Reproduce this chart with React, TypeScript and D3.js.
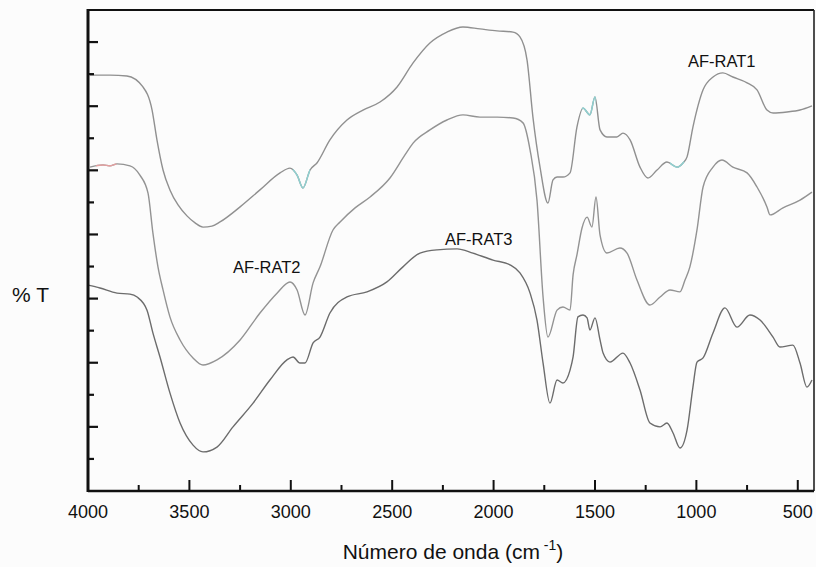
import React from "react";
import * as d3 from "d3";

// FTIR spectra: wavenumber (cm-1) and transmittance (arbitrary offset units)
const rat1Wn = [3990, 3892, 3808, 3729, 3684, 3660, 3630, 3596, 3556, 3512, 3472, 3433, 3389, 3349, 3250, 3152, 3053, 3004, 2969, 2940, 2905, 2871, 2807, 2723, 2644, 2560, 2476, 2397, 2314, 2230, 2151, 2067, 1983, 1904, 1870, 1835, 1806, 1771, 1732, 1707, 1687, 1658, 1623, 1589, 1559, 1525, 1500, 1475, 1441, 1392, 1362, 1327, 1278, 1239, 1194, 1145, 1096, 1066, 1046, 1017, 967, 918, 869, 820, 750, 701, 652, 622, 553, 489, 430];
const rat1T = [129.7, 129.7, 129.4, 126.0, 118.8, 109.5, 100.1, 93.9, 89.2, 85.8, 83.6, 82.3, 82.6, 83.9, 88.6, 93.9, 99.2, 100.7, 98.5, 94.5, 100.1, 102.3, 109.5, 115.7, 118.8, 121.3, 126.0, 133.5, 139.7, 143.1, 144.7, 144.1, 143.5, 143.1, 141.6, 134.4, 116.6, 101.0, 89.8, 97.0, 97.9, 97.9, 99.2, 113.5, 119.4, 117.3, 122.9, 112.6, 110.4, 110.4, 111.6, 109.5, 101.0, 97.6, 100.1, 102.6, 101.0, 102.3, 104.2, 113.5, 125.1, 129.1, 130.4, 129.1, 127.3, 125.1, 118.8, 117.9, 118.2, 118.8, 120.1];

const rat2Wn = [3990, 3926, 3892, 3857, 3793, 3744, 3704, 3680, 3655, 3630, 3596, 3546, 3482, 3433, 3364, 3250, 3152, 3068, 3004, 2969, 2930, 2890, 2856, 2792, 2757, 2683, 2609, 2511, 2437, 2397, 2314, 2230, 2151, 2067, 1983, 1904, 1855, 1820, 1786, 1756, 1732, 1687, 1658, 1623, 1608, 1589, 1564, 1539, 1515, 1495, 1475, 1441, 1377, 1342, 1293, 1229, 1179, 1130, 1081, 1056, 1032, 997, 967, 918, 874, 820, 750, 701, 652, 637, 573, 489, 430];
const rat2T = [101.0, 101.7, 101.4, 102.0, 101.4, 98.5, 92.9, 80.5, 69.9, 62.7, 54.3, 47.1, 41.5, 39.3, 40.9, 47.1, 55.5, 61.7, 65.2, 62.7, 54.9, 64.9, 69.9, 81.4, 83.9, 88.3, 91.7, 97.6, 104.8, 108.5, 112.6, 115.7, 117.3, 116.6, 116.6, 116.3, 114.8, 106.3, 90.7, 60.5, 48.0, 56.4, 57.4, 56.4, 67.4, 73.6, 82.0, 85.4, 82.3, 91.7, 79.8, 74.2, 75.8, 74.2, 65.8, 58.0, 60.5, 62.7, 62.1, 65.8, 69.9, 81.4, 94.8, 101.0, 103.2, 101.0, 99.2, 94.8, 88.6, 86.1, 88.3, 90.7, 93.2];

const rat3Wn = [4000, 3941, 3857, 3793, 3758, 3709, 3680, 3645, 3596, 3546, 3482, 3433, 3364, 3285, 3186, 3103, 3019, 2989, 2955, 2930, 2890, 2856, 2807, 2723, 2624, 2526, 2447, 2363, 2279, 2180, 2102, 2003, 1919, 1870, 1820, 1786, 1756, 1722, 1687, 1658, 1623, 1608, 1584, 1559, 1539, 1525, 1500, 1475, 1460, 1426, 1362, 1327, 1278, 1229, 1179, 1145, 1115, 1081, 1046, 1017, 997, 967, 918, 859, 800, 736, 686, 622, 588, 524, 489, 455, 430];
const rat3T = [64.2, 63.3, 61.7, 61.4, 60.5, 56.4, 49.3, 41.8, 30.6, 21.2, 14.3, 12.2, 13.7, 20.0, 27.4, 34.6, 40.9, 41.8, 39.9, 39.9, 46.2, 48.0, 55.5, 60.5, 62.1, 65.2, 69.9, 74.2, 75.2, 75.5, 74.2, 72.0, 70.5, 68.0, 61.7, 53.3, 39.9, 27.4, 34.6, 33.7, 37.7, 41.8, 54.3, 54.9, 54.0, 50.2, 54.0, 47.1, 43.0, 40.2, 43.0, 39.9, 31.5, 21.2, 20.0, 21.2, 18.1, 13.4, 19.0, 32.4, 40.2, 41.5, 49.3, 57.1, 51.1, 54.9, 53.3, 48.0, 44.9, 45.5, 39.9, 32.4, 34.6];

const seriesNames = ["AF-RAT1", "AF-RAT2", "AF-RAT3"];
const xTickValues = [4000, 3500, 3000, 2500, 2000, 1500, 1000, 500];
const xMinorValues = [3750, 3250, 2750, 2250, 1750, 1250, 750];
const yMajorValues = [20, 40, 60, 80, 100, 120, 140];
const yMinorValues = [10, 30, 50, 70, 90, 110, 130];

// faint colour casts along parts of the traces: [series index, from cm-1, to cm-1, colour]
const tintSeries = [0, 0, 0, 1];
const tintFrom = [2990, 1565, 1130, 3960];
const tintTo = [2905, 1495, 1060, 3860];
const tintColors = ["#8fd0d0", "#8fd0d0", "#8fd0d0", "#e3a0a0"];

const W = 816;
const H = 567;
const left = 88;
const right = 814;
const top = 10;
const bottom = 491;

export default function App() {
  const x = d3.scaleLinear().domain([4000, 420]).range([left, right]);
  const y = d3.scaleLinear().domain([0, 150]).range([bottom, top]);

  const line = d3
    .line<[number, number]>()
    .x((d) => x(d[0]))
    .y((d) => y(d[1]))
    .curve(d3.curveMonotoneX);

  const series = [
    { name: seriesNames[0], pts: rat1Wn.map((w, i) => [w, rat1T[i]] as [number, number]), color: "#909090", lx: 688, ly: 67 },
    { name: seriesNames[1], pts: rat2Wn.map((w, i) => [w, rat2T[i]] as [number, number]), color: "#939393", lx: 233, ly: 273 },
    { name: seriesNames[2], pts: rat3Wn.map((w, i) => [w, rat3T[i]] as [number, number]), color: "#6c6c6c", lx: 445, ly: 245 },
  ];

  const font = "'Liberation Sans', Arial, sans-serif";

  return (
    <svg
      width={W}
      height={H}
      style={{ position: "absolute", left: 0, top: 0, background: "#fcfcfc" }}
      fontFamily={font}
    >
      <defs>
        {tintSeries.map((s, i) => (
          <clipPath key={"tc" + i} id={"tint-" + i}>
            <rect x={x(tintFrom[i])} y={top} width={x(tintTo[i]) - x(tintFrom[i])} height={bottom - top} />
          </clipPath>
        ))}
      </defs>
      <rect x={0} y={0} width={W} height={H} fill="#fcfcfc" />

      {series.map((s) => (
        <path key={s.name} d={line(s.pts) ?? ""} fill="none" stroke={s.color} strokeWidth={1.4} strokeLinejoin="round" />
      ))}

      {tintSeries.map((s, i) => (
        <path
          key={"tint" + i}
          d={line(series[s].pts) ?? ""}
          fill="none"
          stroke={tintColors[i]}
          strokeWidth={1.5}
          clipPath={`url(#tint-${i})`}
        />
      ))}

      {/* frame */}
      <line x1={left} x2={right} y1={top} y2={top} stroke="#111" strokeWidth={2} />
      <line x1={right} x2={right} y1={top} y2={bottom} stroke="#222" strokeWidth={1.6} />
      <line x1={left} x2={left} y1={top - 1} y2={bottom + 1} stroke="#111" strokeWidth={3} />
      <line x1={left} x2={right} y1={bottom} y2={bottom} stroke="#111" strokeWidth={2.4} />

      {/* y ticks, pointing inward */}
      {yMajorValues.map((v) => (
        <line key={"ym" + v} x1={left} x2={left + 10} y1={y(v)} y2={y(v)} stroke="#111" strokeWidth={2.2} />
      ))}
      {yMinorValues.map((v) => (
        <line key={"yn" + v} x1={left} x2={left + 6} y1={y(v)} y2={y(v)} stroke="#111" strokeWidth={2.2} />
      ))}

      {/* x ticks, pointing inward */}
      {xTickValues.map((v) => (
        <line key={"xm" + v} x1={x(v)} x2={x(v)} y1={bottom} y2={bottom - 11} stroke="#111" strokeWidth={2} />
      ))}
      {xMinorValues.map((v) => (
        <line key={"xn" + v} x1={x(v)} x2={x(v)} y1={bottom} y2={bottom - 6} stroke="#111" strokeWidth={2} />
      ))}

      {xTickValues.map((v) => (
        <text key={"xl" + v} x={x(v)} y={518} textAnchor="middle" fontSize={18} fill="#111">
          {v}
        </text>
      ))}

      <text x={453} y={559} textAnchor="middle" fontSize={21} fill="#111">
        Número de onda (cm
        <tspan fontSize={14} dy={-9}> -1</tspan>
        <tspan dy={9}>)</tspan>
      </text>

      <text x={12} y={302} fontSize={21} fill="#111">
        % T
      </text>

      {series.map((s) => (
        <text key={"lab" + s.name} x={s.lx} y={s.ly} fontSize={16.5} fill="#111">
          {s.name}
        </text>
      ))}
    </svg>
  );
}
